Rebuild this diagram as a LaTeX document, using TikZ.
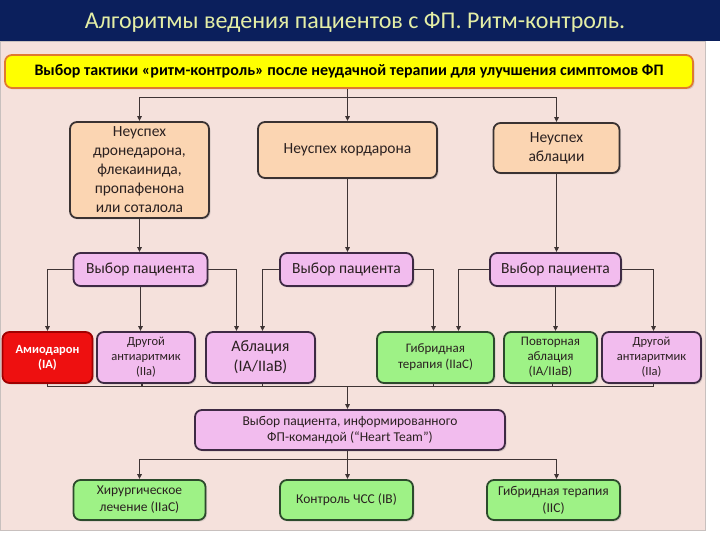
\documentclass[tikz,border=0pt]{standalone}
\usepackage{fontspec}
\setmainfont{Carlito}
\usetikzlibrary{arrows.meta,calc,shadows}
\definecolor{navy}{HTML}{0B1F5C}
\definecolor{titlec}{HTML}{E4EEA6}
\definecolor{panelc}{HTML}{F5E1DC}
\definecolor{panelb}{HTML}{C8C0BE}
\definecolor{yelf}{HTML}{FFFF00}
\definecolor{yelb}{HTML}{E07A30}
\definecolor{peach}{HTML}{FBD5B2}
\definecolor{boxb}{HTML}{3A3232}
\definecolor{pinkf}{HTML}{F2BCEE}
\definecolor{pinkb}{HTML}{3E2A44}
\definecolor{redf}{HTML}{EE1010}
\definecolor{redb}{HTML}{A00000}
\definecolor{greenf}{HTML}{9EF286}
\definecolor{greenb}{HTML}{2C4A2C}
\definecolor{linec}{HTML}{3E3434}
\definecolor{txt}{HTML}{2A2020}
\tikzset{
  box/.style={draw, line width=1.8pt, rounded corners=7pt, align=center, inner sep=1pt,
    text=txt, drop shadow={opacity=0.25, shadow xshift=1.5pt, shadow yshift=-1.5pt}},
  peachbox/.style={box, fill=peach, draw=boxb, font=\fontsize{15.5}{19}\selectfont},
  selbox/.style={box, fill=pinkf, draw=pinkb, font=\fontsize{15.5}{18}\selectfont},
  pinkbox/.style={box, fill=pinkf, draw=pinkb, font=\fontsize{12.5}{15}\selectfont},
  redbox/.style={box, fill=redf, draw=redb, text=white, font=\bfseries\fontsize{12.5}{15}\selectfont},
  greenbox/.style={box, fill=greenf, draw=greenb, font=\fontsize{13.5}{17}\selectfont},
  ln/.style={draw=linec, line width=1.3pt},
  arr/.style={ln, -{Triangle[length=5pt,width=4.5pt]}},
}
\begin{document}
\begin{tikzpicture}[x=1pt,y=-1pt]
\useasboundingbox (0,0) rectangle (720,540);
\fill[white] (0,0) rectangle (720,540);
\fill[navy] (0,0) rectangle (720,41);
\filldraw[fill=panelc, draw=panelb, line width=0.8pt] (0.4,41) rectangle (705,530);
\node[text=titlec, font=\fontsize{24}{28}\selectfont] (title) at (355,22) {Алгоритмы ведения пациентов с ФП. Ритм-контроль.};

\node[box, fill=yelf, draw=yelb, drop shadow={opacity=0}, minimum width=688pt, minimum height=33pt,
  font=\bfseries\fontsize{16}{18}\selectfont, text=black] (yellow) at (349,71.5)
  {Выбор тактики «ритм-контроль» после неудачной терапии для улучшения симптомов ФП};

\node[peachbox, minimum width=139pt, minimum height=96pt] (f1) at (139.5,170)
  {Неуспех\\дронедарона,\\флекаинида,\\пропафенона\\или соталола};
\node[peachbox, minimum width=179pt, minimum height=56pt] (f2) at (347.5,150) {Неуспех кордарона};
\node[peachbox, minimum width=126pt, minimum height=50pt] (f3) at (556.5,148) {Неуспех\\аблации};

\node[selbox, minimum width=134pt, minimum height=33pt] (s1) at (140.5,269.5) {Выбор пациента};
\node[selbox, minimum width=133pt, minimum height=33pt] (s2) at (346.5,269.5) {Выбор пациента};
\node[selbox, minimum width=131pt, minimum height=33pt] (s3) at (555.5,269.5) {Выбор пациента};

\node[redbox, minimum width=90pt, minimum height=51pt] (r1) at (47.5,357.5) {Амиодарон\\(IA)};
\node[pinkbox, minimum width=98pt, minimum height=51pt] (r2) at (146,357.5) {Другой\\антиаритмик\\(IIa)};
\node[pinkbox, minimum width=109pt, minimum height=51pt, font=\fontsize{16}{20}\selectfont] (r3) at (260.5,357.5) {Аблация\\(IA/IIaB)};
\node[greenbox, minimum width=117pt, minimum height=51pt, font=\fontsize{13}{16}\selectfont] (r4) at (435.5,357.5) {Гибридная\\терапия (IIaC)};
\node[greenbox, minimum width=93pt, minimum height=51pt, font=\fontsize{13}{15}\selectfont] (r5) at (550.5,357.5) {Повторная\\аблация\\(IA/IIaB)};
\node[pinkbox, minimum width=99pt, minimum height=51pt] (r6) at (651.5,357.5) {Другой\\антиаритмик\\(IIa)};

\node[pinkbox, minimum width=310pt, minimum height=40pt, font=\fontsize{13.5}{16}\selectfont] (team) at (350,430)
  {Выбор пациента, информированного\\ФП-командой (“Heart Team”)};

\node[greenbox, minimum width=132pt, minimum height=40pt] (b1) at (139.5,500) {Хирургическое\\лечение (IIaC)};
\node[greenbox, minimum width=133pt, minimum height=40pt] (b2) at (346.5,500) {Контроль ЧСС (IB)};
\node[greenbox, minimum width=133pt, minimum height=40pt] (b3) at (553.5,500) {Гибридная терапия\\(IIC)};

% top distribution
\coordinate (j1) at (347.5,97.5);
\draw[ln] (yellow.south -| j1) -- (j1);
\draw[arr] (j1) -| (f1.north);
\draw[arr] (j1) -- (f2.north);
\draw[arr] (j1) -| (f3.north);

\draw[arr] (f1.south) -- (s1.north -| f1.south);
\draw[arr] (f2.south) -- (s2.north -| f2.south);
\draw[arr] (f3.south) -- (f3.south |- s3.north);

% selection -> row 3
\draw[arr] (s1.west) -| (r1.north);
\draw[arr] (s1.south) -- (s1.south |- r2.north);
\draw[arr] (s1.east) -| ($(r3.north)+(-24,0)$);
\draw[arr] (s2.west) -| ($(r3.north)+(2,0)$);
\draw[arr] (s2.east) -| ($(r4.north)+(-2,0)$);
\draw[arr] (s3.west) -| ($(r4.north)+(23,0)$);
\draw[arr] (s3.south) -- (s3.south |- r5.north);
\draw[arr] (s3.east) -| ($(r6.north)+(2,0)$);

% collector
\coordinate (c0) at (347.5,386.5);
\draw[ln] (r1.south) |- (c0);
\draw[ln] ($(r2.south)+(-4,0)$) |- (c0);
\draw[ln] ($(r3.south)+(2,0)$) |- (c0);
\draw[ln] ($(r4.south)+(-2,0)$) |- (c0);
\draw[ln] ($(r5.south)+(2,0)$) |- (c0);
\draw[ln] ($(r6.south)+(2,0)$) |- (c0);
\draw[arr] (c0) -- (c0 |- team.north);

% bottom distribution
\coordinate (c1) at (347.5,459.5);
\draw[ln] (c1 |- team.south) -- (c1);
\draw[arr] (c1) -| (b1.north);
\draw[arr] (c1) -- (c1 |- b2.north);
\draw[arr] (c1) -| ($(b3.north)+(3,0)$);
\end{tikzpicture}
\end{document}
